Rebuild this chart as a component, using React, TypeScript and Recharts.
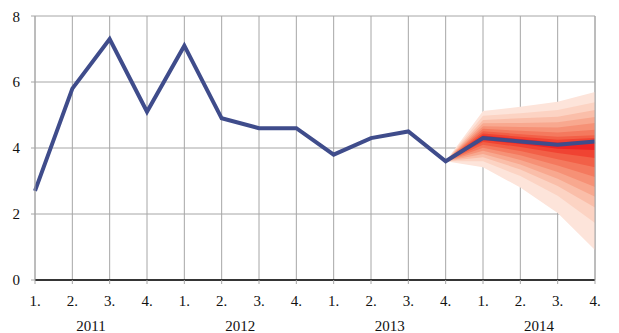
import React from "react";
import { ComposedChart, Line, Area, XAxis, YAxis, CartesianGrid } from "recharts";

const quarterLabels = ["1.", "2.", "3.", "4.", "1.", "2.", "3.", "4.", "1.", "2.", "3.", "4.", "1.", "2.", "3.", "4."];
const yearLabels = ["2011", "2012", "2013", "2014"];
const yearTickPositions = [1.5, 5.5, 9.5, 13.5];
const actualValues = [2.7, 5.8, 7.3, 5.1, 7.1, 4.9, 4.6, 4.6, 3.8, 4.3, 4.5, 3.6, 4.3, 4.2, 4.1, 4.2];
const yTicks = [0, 2, 4, 6, 8];

// fan chart: quarter indices the fan covers
const fanIndices = [11, 12, 13, 14, 15];
// lower / upper bound of each band (outermost first), one value per fan index
const fanLower = [
  [3.6, 3.42, 2.8, 2.03, 0.91],
  [3.6, 3.6, 3.15, 2.55, 1.73],
  [3.6, 3.72, 3.35, 2.85, 2.2],
  [3.6, 3.82, 3.5, 3.07, 2.52],
  [3.6, 3.92, 3.64, 3.27, 2.82],
  [3.6, 4.01, 3.78, 3.47, 3.12],
  [3.6, 4.1, 3.91, 3.66, 3.42],
  [3.6, 4.18, 4.03, 3.85, 3.7],
  [3.6, 4.24, 4.12, 3.98, 3.94],
];
const fanUpper = [
  [3.6, 5.12, 5.25, 5.4, 5.7],
  [3.6, 4.98, 5.05, 5.15, 5.39],
  [3.6, 4.85, 4.9, 4.95, 5.15],
  [3.6, 4.75, 4.76, 4.78, 4.94],
  [3.6, 4.66, 4.64, 4.62, 4.76],
  [3.6, 4.58, 4.52, 4.47, 4.55],
  [3.6, 4.51, 4.42, 4.34, 4.39],
  [3.6, 4.44, 4.34, 4.25, 4.3],
  [3.6, 4.38, 4.27, 4.17, 4.22],
];
const fanColors = ["#fde4da", "#fcd3c3", "#fabea9", "#f8a88f", "#f69176", "#f4795e", "#f26047", "#f04332", "#ee2424"];

const data = quarterLabels.map((label, i) => {
  const row: any = { i, label, actual: actualValues[i] };
  const k = fanIndices.indexOf(i);
  fanLower.forEach((lows, b) => {
    row["b" + b] = k >= 0 ? [lows[k], fanUpper[b][k]] : null;
  });
  return row;
});

const font = { fontFamily: "'Liberation Serif', 'Times New Roman', serif", fontSize: 15, fill: "#111" };
const grid = "#a6a6a6";

export default function App() {
  return (
    <ComposedChart width={611} height={325} data={data} margin={{ top: 8, right: 0, bottom: 0, left: 0 }}>
      <CartesianGrid stroke={grid} strokeWidth={1} />
      <XAxis
        dataKey="i"
        type="number"
        domain={[0, 15]}
        ticks={quarterLabels.map((_, i) => i)}
        tickFormatter={(v: number) => quarterLabels[v]}
        interval={0}
        height={25}
        tickSize={4}
        tickMargin={11}
        axisLine={{ stroke: "#000", strokeWidth: 1.5 }}
        tickLine={{ stroke: grid }}
        tick={font}
      />
      <XAxis
        xAxisId="year"
        dataKey="i"
        type="number"
        domain={[0, 15]}
        ticks={yearTickPositions}
        tickFormatter={(v: number) => yearLabels[yearTickPositions.indexOf(v)]}
        interval={0}
        height={28}
        tickSize={0}
        tickMargin={15}
        axisLine={false}
        tickLine={false}
        tick={font}
      />
      <XAxis
        xAxisId="top"
        orientation="top"
        dataKey="i"
        type="number"
        domain={[0, 15]}
        ticks={quarterLabels.map((_, i) => i)}
        interval={0}
        height={0}
        tickSize={4}
        axisLine={false}
        tickLine={{ stroke: grid }}
        tick={false}
      />
      <YAxis
        domain={[0, 8]}
        ticks={yTicks}
        width={27}
        tickSize={4}
        tickMargin={11}
        axisLine={{ stroke: grid }}
        tickLine={{ stroke: grid }}
        tick={font}
      />
      <YAxis
        yAxisId="right"
        orientation="right"
        domain={[0, 8]}
        ticks={yTicks}
        width={24}
        tickSize={4}
        tickMargin={9}
        axisLine={{ stroke: grid }}
        tickLine={{ stroke: grid }}
        tick={{ ...font, textAnchor: "start" }}
      />
      {fanColors.map((c, b) => (
        <Area
          key={b}
          type="linear"
          dataKey={"b" + b}
          stroke="none"
          fill={c}
          fillOpacity={1}
          dot={false}
          activeDot={false}
          isAnimationActive={false}
        />
      ))}
      <Line
        type="linear"
        dataKey="actual"
        stroke="#3f4c8b"
        strokeWidth={4}
        dot={false}
        activeDot={false}
        isAnimationActive={false}
      />
    </ComposedChart>
  );
}
